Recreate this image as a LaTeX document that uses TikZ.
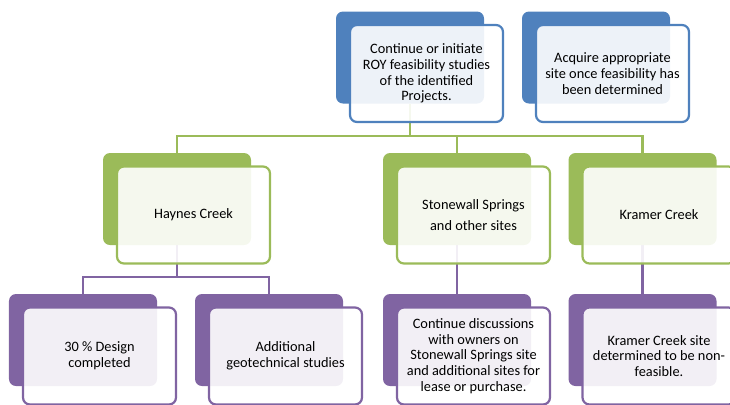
\documentclass[tikz,border=0pt]{standalone}
\usepackage{fontspec}
\setmainfont{Carlito}
\usetikzlibrary{backgrounds}

\definecolor{roybluefill}{HTML}{4F81BD}
\definecolor{roygreen}{HTML}{9BBB59}
\definecolor{roypurple}{HTML}{8064A2}

\begin{document}
\begin{tikzpicture}[x=1bp,y=-1bp,
  backbox/.style={rectangle,rounded corners=7bp,minimum width=148bp,minimum height=92bp,inner sep=0pt,fill=#1},
  frontbox/.style={rectangle,rounded corners=7bp,minimum width=153bp,minimum height=97bp,inner sep=0pt,
    draw=#1,line width=2.2bp,fill=white,fill opacity=0.9,text opacity=1,align=center,
    font=\fontsize{14.4}{15.8}\selectfont,xshift=16.5bp,yshift=-16bp},
  link/.style={draw=#1,line width=2.4bp}]
\useasboundingbox (0,0) rectangle (730,404);

% top level
\node[backbox=roybluefill] (rb) at (410,57.5) {};
\node[frontbox=roybluefill] (r) at (rb) {Continue or initiate\\ROY feasibility studies\\of the identified\\Projects.};
\node[backbox=roybluefill] (ab) at (596,57.5) {};
\node[frontbox=roybluefill] (a) at (ab) {Acquire appropriate\\site once feasibility has\\been determined};

% sites
\node[backbox=roygreen] (hb) at (177,199) {};
\node[frontbox=roygreen] (h) at (hb) {Haynes Creek};
\node[backbox=roygreen] (sb) at (457,199) {};
\node[frontbox=roygreen] (s) at (sb) {Stonewall Springs\\[6bp]and other sites};
\node[backbox=roygreen] (kb) at (642.5,199) {};
\node[frontbox=roygreen] (k) at (kb) {Kramer Creek};

% actions
\node[backbox=roypurple] (db) at (83,340) {};
\node[frontbox=roypurple] (d) at (db) {30 \% Design\\completed};
\node[backbox=roypurple] (gb) at (269,340) {};
\node[frontbox=roypurple] (g) at (gb) {Additional\\geotechnical studies};
\node[backbox=roypurple] (ob) at (457,340) {};
\node[frontbox=roypurple] (o) at (ob) {Continue discussions\\with owners on\\Stonewall Springs site\\and additional sites for\\lease or purchase.};
\node[backbox=roypurple] (nb) at (642.5,340) {};
\node[frontbox=roypurple] (n) at (nb) {Kramer Creek site\\determined to be non-\\feasible.};

\begin{scope}[on background layer]
\draw[link=roygreen] (rb.south) -- ++(0,32.5) -| (hb.north);
\draw[link=roygreen] (rb.south) -- ++(0,32.5) -| (sb.north);
\draw[link=roygreen] (rb.south) -- ++(0,32.5) -| (kb.north);
\draw[link=roypurple] (hb.south) -- ++(0,32) -| (db.north);
\draw[link=roypurple] (hb.south) -- ++(0,32) -| (gb.north);
\draw[link=roypurple] (sb.south) -- (ob.north);
\draw[link=roypurple] (kb.south) -- (nb.north);
\end{scope}
\end{tikzpicture}
\end{document}
